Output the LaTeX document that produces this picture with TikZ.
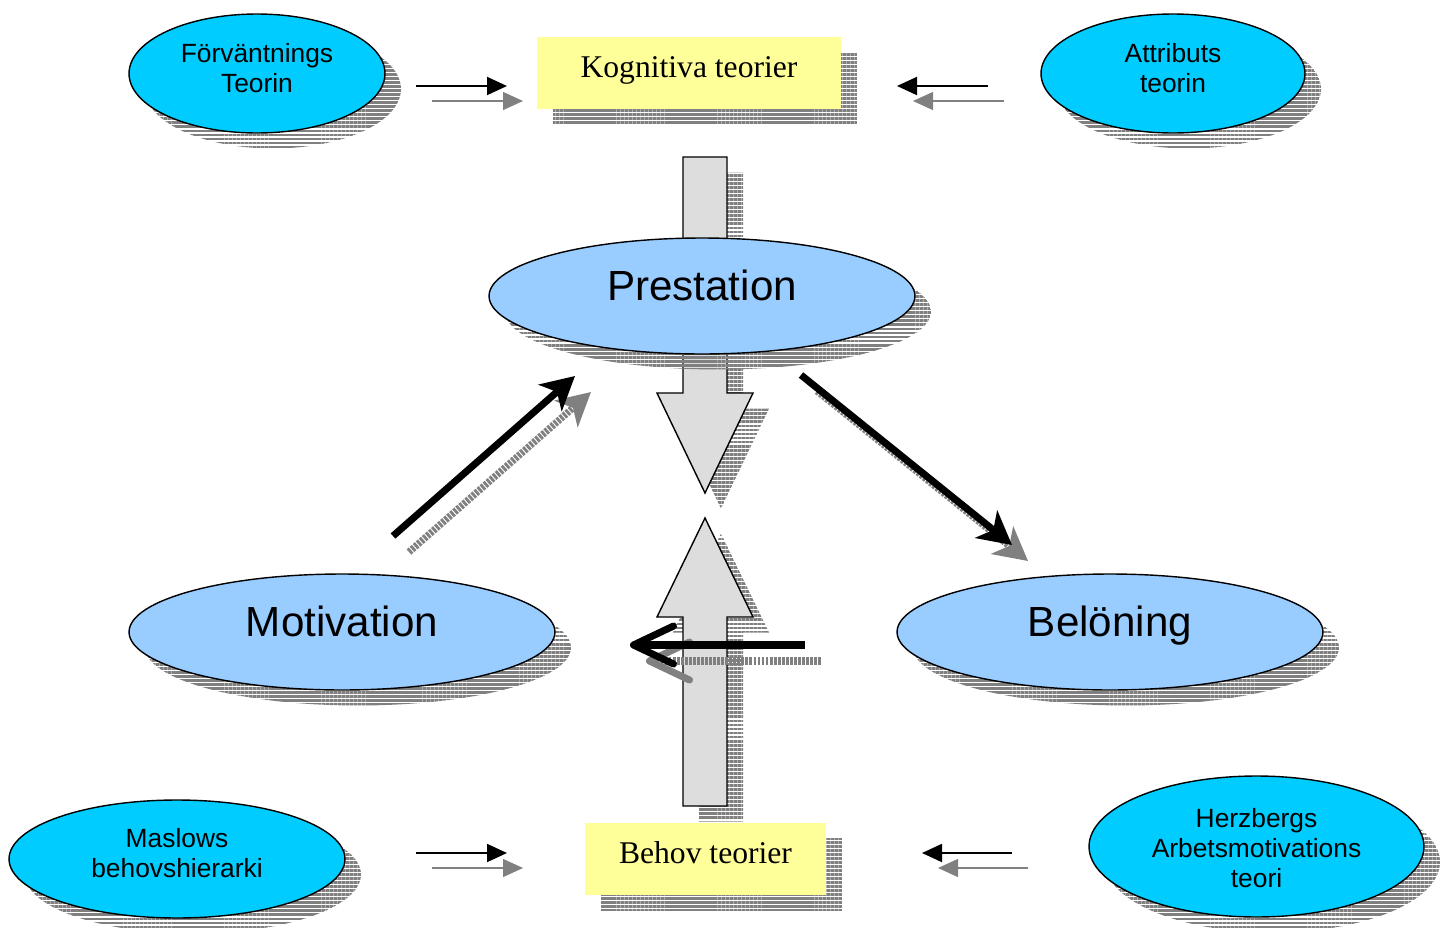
\documentclass[tikz,border=0pt]{standalone}
\usepackage{fontspec}
\setmainfont{Liberation Serif}
\setsansfont{Liberation Sans}
\usetikzlibrary{shapes.geometric,arrows.meta,shadows,patterns.meta}
\definecolor{bubblecyan}{HTML}{00CCFF}
\definecolor{bubbleblue}{HTML}{99CCFF}
\definecolor{boxyellow}{HTML}{FFFF99}
\definecolor{arrowgray}{HTML}{DDDDDD}
\definecolor{shadowgray}{HTML}{808080}
\newcommand{\liftlines}[2][0.1cm]{\raisebox{#1}[\height][\depth]{\begin{tabular}{@{}c@{}}#2\end{tabular}}}
\tikzset{
  striped/.style={general shadow={shadow xshift=0.32cm,shadow yshift=-0.31cm,
    pattern={Lines[distance=2.3pt,line width=1.6pt]},pattern color=shadowgray}},
  smallbubble/.style={ellipse,draw,line width=0.8pt,fill=bubblecyan,striped,inner sep=0pt,
    font=\sffamily\fontsize{15}{17}\selectfont},
  bigbubble/.style={ellipse,draw,line width=0.8pt,fill=bubbleblue,striped,inner sep=0pt,
    minimum width=8.52cm,minimum height=2.32cm,text height=0.62cm,text depth=0.46cm,
    font=\sffamily\fontsize{24}{28}\selectfont},
  theorybox/.style={rectangle,fill=boxyellow,striped,minimum height=1.44cm,inner sep=0pt,
    font=\fontsize{18}{21}\selectfont},
  blockarrow/.style={draw,line width=0.8pt,fill=arrowgray,striped,line join=miter},
  thinarrow/.style={line width=1.1pt,-{Triangle[length=0.4cm,width=0.36cm]}},
  thinshadow/.style={shadowgray,line width=0.6pt,-{Triangle[length=0.4cm,width=0.36cm]}},
  thickarrow/.style={line width=4pt,-{Stealth[length=0.66cm,width=0.7cm,inset=0.18cm]}},
  thickshadow/.style={shadowgray,line width=4pt,dash pattern=on 1.6pt off 0.7pt,
    -{Stealth[length=0.66cm,width=0.7cm,inset=0.18cm]}},
  barbarrow/.style={line width=4pt,-{Straight Barb[length=0.8cm,width=0.76cm,round]}},
  barbshadow/.style={shadowgray,line width=4pt,dash pattern=on 1.6pt off 0.7pt,
    -{Straight Barb[length=0.8cm,width=0.76cm,round]}},
}
\begin{document}
\begin{tikzpicture}[x=0.02cm,y=-0.02cm]
\useasboundingbox (0,0) rectangle (1448,927);

\draw[blockarrow] (683,157) -- (727,157) -- (727,393) -- (753,393) -- (705,493)
  -- (657,393) -- (683,393) -- cycle;
\draw[blockarrow] (683,806) -- (727,806) -- (727,617) -- (753,617) -- (705,518)
  -- (657,617) -- (683,617) -- cycle;

\node[smallbubble,minimum width=5.12cm,minimum height=2.38cm] (forv) at (257,73.5) {\liftlines[0.04cm]{Förväntnings\\Teorin}};
\node[smallbubble,minimum width=5.28cm,minimum height=2.38cm] (attr) at (1173,73.5) {\liftlines[0.04cm]{Attributs\\teorin}};
\node[smallbubble,minimum width=6.72cm,minimum height=2.36cm] (maslow) at (177,859) {\liftlines[0.05cm]{Maslows\\behovshierarki}};
\node[smallbubble,minimum width=6.7cm,minimum height=2.82cm] (herz) at (1256.5,846.5) {\liftlines[-0.1cm]{Herzbergs\\Arbetsmotivations\\teori}};

\node[theorybox,minimum width=6.08cm] (kogn) at (689,73) {\liftlines[0.06cm]{Kognitiva teorier}};
\node[theorybox,minimum width=4.82cm] (behov) at (705.5,859) {\liftlines[0.06cm]{Behov teorier}};

\node[bigbubble] (prest) at (702,296) {Prestation};
\node[bigbubble] (motiv) at (342,632) {Motivation};
\node[bigbubble] (belon) at (1110,632) {Belöning};

\coordinate (k1) at (416,86);  \coordinate (k2) at (507,86);
\coordinate (k3) at (988,86);  \coordinate (k4) at (897,86);
\coordinate (b1) at (416,853); \coordinate (b2) at (507,853);
\coordinate (b3) at (1012,853); \coordinate (b4) at (922,853);
\foreach \s/\e in {k1/k2,k3/k4,b1/b2,b3/b4} {
  \draw[thinshadow] ([shift={(16,15)}]\s) -- ([shift={(16,15)}]\e);
  \draw[thinarrow] (\s) -- (\e);
}

\coordinate (m1) at (393,536); \coordinate (m2) at (575,376);
\coordinate (p1) at (801,375); \coordinate (p2) at (1012,545);
\coordinate (h1) at (805,645); \coordinate (h2) at (630,645);
\draw[thickshadow] ([shift={(16,16)}]m1) -- ([shift={(16,16)}]m2);
\draw[thickshadow] ([shift={(16,16)}]p1) -- ([shift={(16,16)}]p2);
\draw[barbshadow] ([shift={(16,16)}]h1) -- ([shift={(16,16)}]h2);
\draw[thickarrow] (m1) -- (m2);
\draw[thickarrow] (p1) -- (p2);
\draw[barbarrow] (h1) -- (h2);
\end{tikzpicture}
\end{document}
